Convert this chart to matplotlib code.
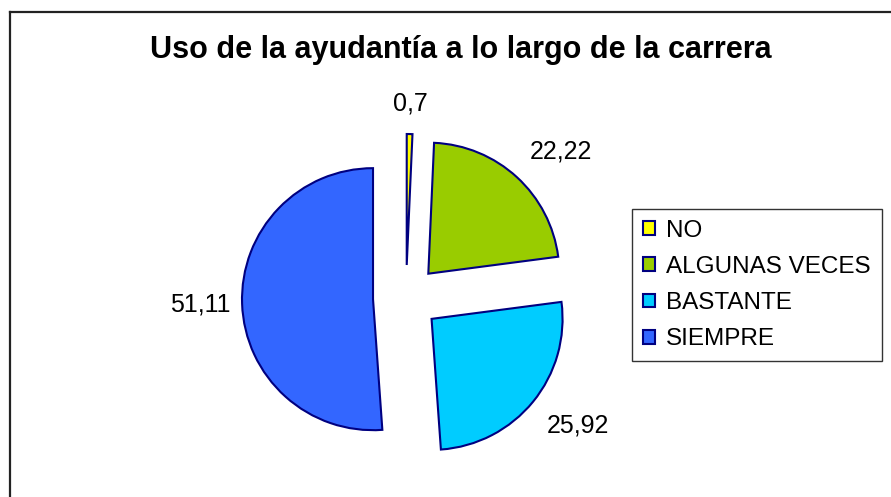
import matplotlib
matplotlib.use('Agg')
import matplotlib.pyplot as plt
from matplotlib.lines import Line2D
import numpy as np

# --- data ---
categories = ['NO', 'ALGUNAS VECES', 'BASTANTE', 'SIEMPRE']
values = [0.7, 22.22, 25.92, 51.11]
value_labels = ['0,7', '22,22', '25,92', '51,11']
colors = ['#FFFF00', '#99CC00', '#00CCFF', '#3366FF']
title = 'Uso de la ayudantía a lo largo de la carrera'

# layout (pixel units of the 891x497 canvas)
W, H = 891, 497
center = (406, H - 298)
radius = 131
explode_px = 33
label_dist = 1.14

plt.rcParams['font.family'] = ['Liberation Sans', 'DejaVu Sans']

fig = plt.figure(figsize=(W / 100, H / 100), dpi=100)
ax = fig.add_axes([0, 0, 1, 1])
ax.set_xlim(0, W)
ax.set_ylim(0, H)

wedges, _ = ax.pie(values, colors=colors, startangle=90, counterclock=False,
                   radius=radius, center=center, frame=True,
                   explode=[explode_px] * len(values),
                   wedgeprops=dict(edgecolor='#000080', linewidth=1.5))
ax.set_aspect('equal')
ax.axis('off')

# value labels: corner nearest to the wedge sits just outside it (Excel style)
for w, txt in zip(wedges, value_labels):
    ang = np.deg2rad((w.theta1 + w.theta2) / 2)
    c, s = np.cos(ang), np.sin(ang)
    ha = 'left' if c > 0.1 else ('right' if c < -0.1 else 'center')
    va = 'bottom' if s > 0.1 else ('top' if s < -0.1 else 'center')
    # side labels sit a little closer
    d = label_dist - 0.05 if ha != 'center' and va == 'center' else label_dist
    cx, cy = w.center
    ax.text(cx + d * radius * c, cy + d * radius * s, txt,
            ha=ha, va=va, fontsize=18)

fig.text(0.5 * (148 + 773) / W, 1 - 50 / H, title, ha='center', va='center',
         fontsize=22, fontweight='bold')

leg = fig.legend(wedges, categories, loc='upper left',
                 bbox_to_anchor=(632 / W, 1 - 209 / H), borderaxespad=0,
                 fontsize=17.5, handlelength=0.5, handleheight=0.5,
                 handletextpad=0.45, labelspacing=0.58, borderpad=0.45,
                 frameon=True, fancybox=False, shadow=False)
leg.get_frame().set_edgecolor('black')
leg.get_frame().set_linewidth(1.0)

# outer chart frame (top and left edges)
fig.add_artist(Line2D([9.5 / W, 9.5 / W], [0, 1 - 12 / H], color='#222222', lw=1.6))
fig.add_artist(Line2D([9.5 / W, 1], [1 - 12 / H, 1 - 12 / H], color='#222222', lw=1.6))

fig.savefig('out.png', dpi=100)
